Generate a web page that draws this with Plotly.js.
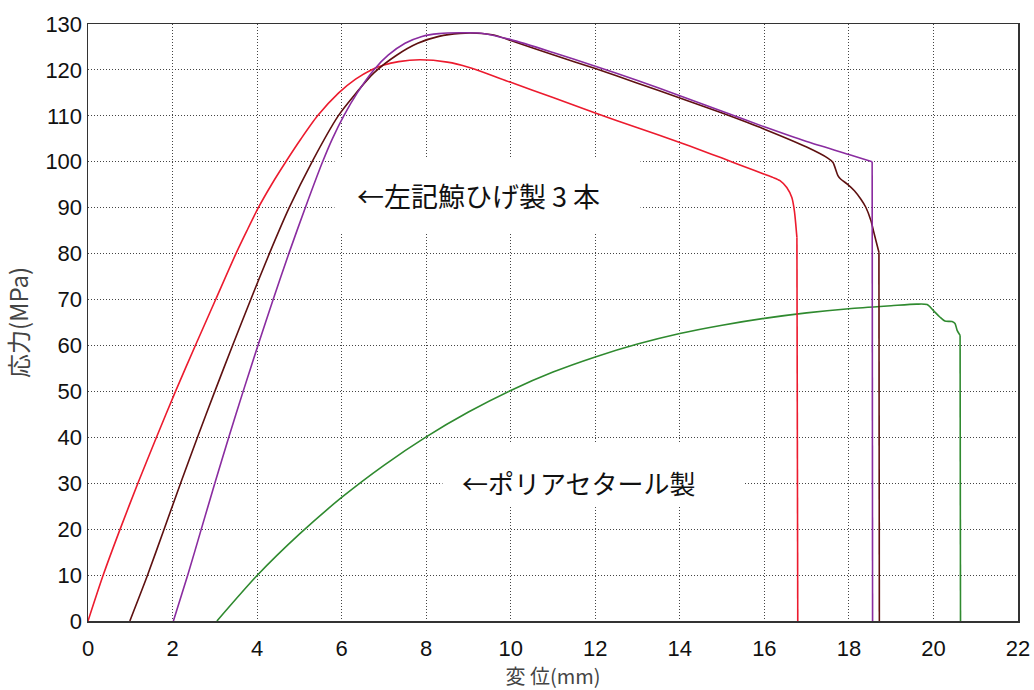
<!DOCTYPE html>
<html>
<head>
<meta charset="utf-8">
<script src="https://cdn.plot.ly/plotly-3.0.1.min.js"></script>
<style>html,body{margin:0;padding:0;background:#fff;}#chart{width:1034px;height:690px;}</style>
</head>
<body>
<div id="chart"></div>
<script>
// Whale-baleen specimen 1 (red)
const redX = [0,0.36,0.76,1.18,1.62,2.07,2.54,3.02,3.5,3.76,4.03,4.34,4.68,5.04,5.43,5.93,6.33,6.7,6.98,7.35,7.85,8.5,9,10,11,12,13,14,14.5,15,15.5,16,16.2,16.37,16.53,16.65,16.71,16.77,16.79];
const redY = [0,10,20,30,40,50,60,70,80,85,90,95,100,105,110,115,118,120,121,121.8,122.2,121.7,120.6,117.3,114,110.6,107.4,104.2,102.5,100.8,99,97.3,96.6,95.9,94.4,92.2,89.3,83.5,0];
// Whale-baleen specimen 2 (brown)
const brownX = [0.99,1.41,1.80,2.19,2.59,3.00,3.42,3.85,4.29,4.76,5.30,5.92,6.3,6.77,7.3,7.8,8.3,8.8,9.2,9.6,10,11,12,13,14,15,16,17,17.5,17.62,17.74,17.81,17.97,18.13,18.28,18.4,18.52,18.58,18.64,18.71,18.72];
const brownY = [0,10,20,30,40,50,60,70,80,90,100,110,114.5,119.4,123.2,125.8,127.3,127.95,128,127.6,126.4,123.3,120.3,117.1,113.9,110.6,107.1,103.2,100.8,99.9,97,96.2,95.1,93.7,91.9,90.1,87.2,85,82.8,80.3,0];
// Whale-baleen specimen 3 (purple)
const purpleX = [2.02,2.36,2.68,3.00,3.33,3.67,4.02,4.38,4.75,5.14,5.55,5.78,6.05,6.37,6.76,7.1,7.5,7.9,8.3,8.8,9.3,10,11,12,13,14,15,16,17,18,18.55,18.56];
const purpleY = [0,10,20,30,40,50,60,70,80,90,100,105,110,115,120,123.2,125.8,127.3,127.9,128.1,128,126.6,123.8,120.8,117.7,114.4,111,107.6,104.4,101.6,100,0];
// Polyacetal (green)
const greenX = [3.05,4.0,5.0,6.0,7.0,8.0,9.0,10.0,11,12,13,14,15,16,17,18,19,19.6,19.85,20.0,20.15,20.27,20.44,20.51,20.56,20.63,20.64];
const greenY = [0,9.9,18.9,26.9,33.9,40.1,45.5,50.2,54.2,57.5,60.3,62.6,64.4,65.9,67.1,68.0,68.65,69.0,68.9,67.6,66.2,65.3,65.2,64.8,63.3,62.2,0];

const xTitle = '変 位(mm)';
const yTitle = '応力(MPa)';
const label1 = '←左記鯨ひげ製 3 本';
const label2 = '←ポリアセタール製';

const series = [
  {x: greenX, y: greenY, color: '#2f8a2f'},
  {x: redX, y: redY, color: '#ec1b2e'},
  {x: brownX, y: brownY, color: '#5e1010'},
  {x: purpleX, y: purpleY, color: '#8a2ca0'}
];

const lineW = 1.6;
const traces = [];
series.forEach(s => {
  const n = s.x.length;
  // smooth curve up to the fracture point
  traces.push({x: s.x.slice(0, n - 1), y: s.y.slice(0, n - 1), mode: 'lines',
    line: {color: s.color, width: lineW, shape: 'spline', smoothing: 0.7}});
  // straight vertical drop after fracture
  traces.push({x: s.x.slice(n - 2), y: s.y.slice(n - 2), mode: 'lines',
    line: {color: s.color, width: lineW}});
});

const tickFont = {family: '"Liberation Sans", Arial, sans-serif', size: 22, color: '#111'};
const cjk = '"Noto Sans CJK JP", "Liberation Sans", sans-serif';

const axisCommon = {
  showgrid: true, gridcolor: '#444', griddash: '1px,2px', gridwidth: 1,
  showline: true, mirror: true, linecolor: '#333', linewidth: 1.5,
  zeroline: false, ticks: '', tickfont: tickFont, fixedrange: true
};

const layout = {
  width: 1034, height: 690,
  margin: {l: 88, r: 16, t: 24, b: 69},
  paper_bgcolor: '#fff', plot_bgcolor: '#fff',
  showlegend: false,
  xaxis: Object.assign({}, axisCommon, {
    range: [0, 22], dtick: 2, tick0: 0, ticklabelstandoff: 7,
    title: {text: xTitle, font: {family: cjk, size: 20, color: '#444'}, standoff: 20}
  }),
  yaxis: Object.assign({}, axisCommon, {
    range: [0, 130], dtick: 10, tick0: 0,
    title: {text: yTitle, font: {family: cjk, size: 24, color: '#444'}, standoff: 12}
  }),
  annotations: [
    {x: 9.45, y: 92.6, xref: 'x', yref: 'y', text: ' ', showarrow: false,
     width: 305, height: 74, borderpad: 0, bgcolor: '#fff', xanchor: 'center', yanchor: 'middle'},
    {x: 6.32, y: 92.6, xref: 'x', yref: 'y', text: label1, showarrow: false,
     xanchor: 'left', yanchor: 'middle', font: {family: cjk, size: 27, color: '#111'}},
    {x: 11.96, y: 32.0, xref: 'x', yref: 'y', text: ' ', showarrow: false,
     width: 301, height: 62, borderpad: 0, bgcolor: '#fff', xanchor: 'center', yanchor: 'middle'},
    {x: 8.8, y: 30.2, xref: 'x', yref: 'y', text: label2, showarrow: false,
     xanchor: 'left', yanchor: 'middle', font: {family: cjk, size: 26, color: '#111'}}
  ]
};

Plotly.newPlot('chart', traces, layout, {displayModeBar: false, staticPlot: true});
</script>
</body>
</html>
